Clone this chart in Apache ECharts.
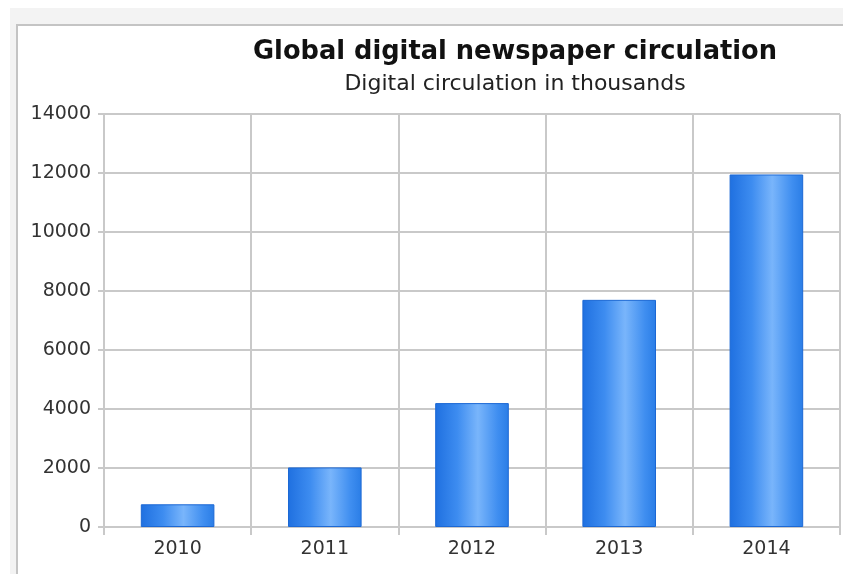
<!DOCTYPE html>
<html>
<head>
<meta charset="utf-8">
<title>Global digital newspaper circulation</title>
<script src="https://cdn.jsdelivr.net/npm/echarts@6/dist/echarts.min.js"></script>
<style>
  html, body { margin: 0; padding: 0; background: #fff; }
  #chart { width: 843px; height: 574px; }
</style>
</head>
<body>
<div id="chart"></div>
<script>
// values in thousands
const years = ['2010', '2011', '2012', '2013', '2014'];
const circulation = [770, 2020, 4200, 7700, 11950];
const yTicks = { min: 0, max: 14000, step: 2000 };

const chart = echarts.init(document.getElementById('chart'));

const gridGrey = '#c9c9c9';
const textGrey = '#333';

chart.setOption({
    animation: false,
    backgroundColor: '#fff',
    graphic: [
        {
            type: 'rect',
            z: -10,
            shape: { x: 10, y: 8, width: 900, height: 600 },
            style: { fill: '#f3f3f3' },
            silent: true
        },
        {
            type: 'rect',
            z: -9,
            shape: { x: 17, y: 25, width: 900, height: 600 },
            style: { fill: '#fff', stroke: '#c4c4c4', lineWidth: 2 },
            silent: true
        }
    ],
    title: {
        text: 'Global digital newspaper circulation',
        subtext: 'Digital circulation in thousands',
        left: 510,
        top: 34,
        textAlign: 'center',
        itemGap: 8,
        textStyle: {
            fontFamily: 'DejaVu Sans',
            fontSize: 25.7,
            fontWeight: 'bold',
            color: '#111'
        },
        subtextStyle: {
            fontFamily: 'DejaVu Sans',
            fontSize: 22,
            color: '#222'
        }
    },
    grid: {
        left: 104,
        right: 3,
        top: 114,
        bottom: 47,
        containLabel: false
    },
    xAxis: {
        type: 'category',
        data: years,
        boundaryGap: true,
        axisLine: { show: true, lineStyle: { color: gridGrey, width: 2 } },
        axisTick: { show: true, length: 8, interval: 0, lineStyle: { color: gridGrey, width: 2 } },
        splitLine: { show: true, interval: 0, lineStyle: { color: gridGrey, width: 2 } },
        axisLabel: {
            margin: 13,
            fontFamily: 'DejaVu Sans',
            fontSize: 19,
            color: textGrey
        }
    },
    yAxis: {
        type: 'value',
        min: yTicks.min,
        max: yTicks.max,
        interval: yTicks.step,
        axisLine: { show: true, lineStyle: { color: gridGrey, width: 2 } },
        axisTick: { show: true, length: 6, lineStyle: { color: gridGrey, width: 2 } },
        splitLine: { show: true, lineStyle: { color: gridGrey, width: 2 } },
        axisLabel: {
            margin: 13,
            fontFamily: 'DejaVu Sans',
            fontSize: 19,
            color: textGrey,
            formatter: v => String(v)
        }
    },
    series: [
        {
            type: 'bar',
            data: circulation,
            barWidth: '50%',
            itemStyle: {
                borderColor: '#1c68d4',
                borderWidth: 1,
                color: new echarts.graphic.LinearGradient(0, 0, 1, 0, [
                    { offset: 0, color: '#1f70e0' },
                    { offset: 0.3, color: '#3d8cf0' },
                    { offset: 0.58, color: '#79b5fb' },
                    { offset: 0.85, color: '#3f8ef0' },
                    { offset: 1, color: '#2a7de6' }
                ])
            }
        }
    ]
});
</script>
</body>
</html>
